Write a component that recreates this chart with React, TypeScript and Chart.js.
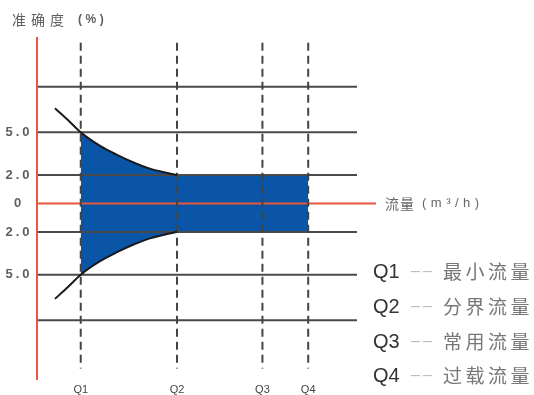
import React, { useEffect, useRef } from 'react';
import { Chart, registerables } from 'chart.js';

Chart.register(...registerables);

// ---- data ----
const flowMarks = ['Q1', 'Q2', 'Q3', 'Q4'];
const flowPositions = [12.9, 41.3, 66.5, 80.0];
const flowNames = ['最小流量', '分界流量', '常用流量', '过载流量'];

const accuracyTicks = [5, 2, 0, -2, -5];
const accuracyTickLabels = ['5.0', '2.0', '0', '2.0', '5.0'];
const frameLevels = [8.2, 5, 2, -2, -5, -8.2];

const curveFlow = [5.3, 9.2, 12.9, 18.6, 23.6, 28.3, 33.3, 37.8, 41.3];
const upperLimit = [6.7, 5.85, 5.0, 4.05, 3.42, 2.9, 2.45, 2.18, 2.0];
const lowerLimit = [-6.7, -5.85, -5.0, -4.05, -3.42, -2.9, -2.45, -2.18, -2.0];

const titleText = '准确度';
const titleUnit = '(%)';
const flowAxisText = '流量';
const flowAxisUnit = '(m³/h)';
const legendDash = '––';

// ---- layout / style constants ----
const X_MAX = 100;
const Y_MIN = -12.4;
const Y_MAX = 11.7;
const GRID_END = 94.4;
const DASH_TOP = 11.3;
const DASH_BOTTOM = -11.6;
const BLUE = '#0a55a5';
const RED = '#e9573f';
const FONT = '"Liberation Sans", Arial, "Noto Sans CJK SC", sans-serif';
const CJK = '"Noto Sans CJK SC", "Liberation Sans", sans-serif';

const firstBand = curveFlow.findIndex((x) => x >= flowPositions[0]);
const bandUpper = curveFlow
  .slice(firstBand)
  .map((x, i) => ({ x, y: upperLimit[i + firstBand] }))
  .concat([{ x: flowPositions[3], y: upperLimit[upperLimit.length - 1] }]);
const bandLower = curveFlow
  .slice(firstBand)
  .map((x, i) => ({ x, y: lowerLimit[i + firstBand] }))
  .concat([{ x: flowPositions[3], y: lowerLimit[lowerLimit.length - 1] }]);

function drawSpaced(ctx: CanvasRenderingContext2D, text: string, x: number, y: number, font: string, color: string, spacing: number, align: CanvasTextAlign = 'left') {
  ctx.font = font;
  ctx.fillStyle = color;
  ctx.textAlign = align;
  ctx.textBaseline = 'middle';
  (ctx as any).letterSpacing = spacing + 'px';
  ctx.fillText(text, x, y);
}

const textPlugin = {
  id: 'schematicTexts',
  afterDraw(chart: any) {
    const ctx: CanvasRenderingContext2D = chart.ctx;
    const xs = chart.scales.x;
    const ys = chart.scales.y;
    ctx.save();
    // y tick labels
    accuracyTicks.forEach((v, i) => {
      drawSpaced(ctx, accuracyTickLabels[i], 19, ys.getPixelForValue(v), 'bold 13px ' + FONT, '#5e5e5e', 3, 'center');
    });
    // x labels
    flowMarks.forEach((m, i) => {
      drawSpaced(ctx, m, xs.getPixelForValue(flowPositions[i]), 390, '11px ' + FONT, '#444', 0, 'center');
    });
    // title
    drawSpaced(ctx, titleText, 12, 20, '14px ' + CJK, '#5e5e5e', 5);
    drawSpaced(ctx, titleUnit, 78, 20, 'bold 12px ' + FONT, '#5e5e5e', 3.5);
    // flow axis label
    const y0 = ys.getPixelForValue(0);
    drawSpaced(ctx, flowAxisText, 385, y0, '14px ' + CJK, '#666', 1);
    drawSpaced(ctx, flowAxisUnit, 422, y0, '13px ' + FONT, '#666', 4.5);
    // legend
    const rows = [272, 307, 342, 376];
    flowMarks.forEach((m, i) => {
      drawSpaced(ctx, m, 373, rows[i], '20px ' + FONT, '#333', 0);
      drawSpaced(ctx, legendDash, 411, rows[i], '16px ' + FONT, '#bbb', 3);
      drawSpaced(ctx, flowNames[i], 443, rows[i], '19px ' + CJK, '#777', 3.5);
    });
    ctx.restore();
  },
};

export default function App() {
  const ref = useRef<HTMLCanvasElement | null>(null);

  useEffect(() => {
    document.body.style.margin = '0';
    const canvas = ref.current;
    if (!canvas) return;

    const datasets: any[] = [];
    // blue band
    datasets.push({
      data: bandUpper,
      backgroundColor: BLUE,
      borderWidth: 0,
      fill: '+1',
      cubicInterpolationMode: 'monotone',
      order: 20,
      clip: false,
    });
    datasets.push({
      data: bandLower,
      borderWidth: 0,
      fill: false,
      cubicInterpolationMode: 'monotone',
      order: 19,
      clip: false,
    });
    // frame grid lines
    frameLevels.forEach((lv) => {
      datasets.push({
        data: [{ x: 0, y: lv }, { x: GRID_END, y: lv }],
        borderColor: '#4a4a4a',
        borderWidth: 2,
        fill: false,
        order: 10,
        clip: false,
      });
    });
    // dashed flow marks
    flowPositions.forEach((q) => {
      datasets.push({
        data: [{ x: q, y: DASH_TOP }, { x: q, y: DASH_BOTTOM }],
        borderColor: '#444',
        borderWidth: 2,
        borderDash: [8, 5],
        fill: false,
        order: 6,
        clip: false,
      });
    });
    // red zero line and red axis
    datasets.push({
      data: [{ x: 0, y: 0 }, { x: X_MAX, y: 0 }],
      borderColor: RED,
      borderWidth: 2,
      fill: false,
      order: 8,
      clip: false,
    });
    datasets.push({
      data: [{ x: 0, y: Y_MIN }, { x: 0, y: Y_MAX }],
      borderColor: RED,
      borderWidth: 2,
      fill: false,
      order: 8,
      clip: false,
    });
    // accuracy limit curves
    datasets.push({
      data: curveFlow.map((x, i) => ({ x, y: upperLimit[i] })),
      borderColor: '#1a1a1a',
      borderWidth: 2,
      fill: false,
      cubicInterpolationMode: 'monotone',
      order: 4,
      clip: false,
    });
    datasets.push({
      data: curveFlow.map((x, i) => ({ x, y: lowerLimit[i] })),
      borderColor: '#1a1a1a',
      borderWidth: 2,
      fill: false,
      cubicInterpolationMode: 'monotone',
      order: 4,
      clip: false,
    });

    const chart = new Chart(canvas, {
      type: 'line',
      data: { datasets },
      options: {
        animation: false,
        responsive: false,
        events: [],
        layout: { padding: { left: 37, right: 158, top: 37, bottom: 15 } },
        elements: { point: { radius: 0, hoverRadius: 0 } },
        plugins: {
          legend: { display: false },
          tooltip: { enabled: false },
          title: { display: false },
        },
        scales: {
          x: { type: 'linear', display: false, min: 0, max: X_MAX },
          y: { type: 'linear', display: false, min: Y_MIN, max: Y_MAX },
        },
      } as any,
      plugins: [textPlugin],
    });
    return () => chart.destroy();
  }, []);

  return (
    <div style={{ position: 'absolute', left: 0, top: 0, width: 534, height: 395, background: '#fff' }}>
      <canvas ref={ref} width={534} height={395} />
    </div>
  );
}
